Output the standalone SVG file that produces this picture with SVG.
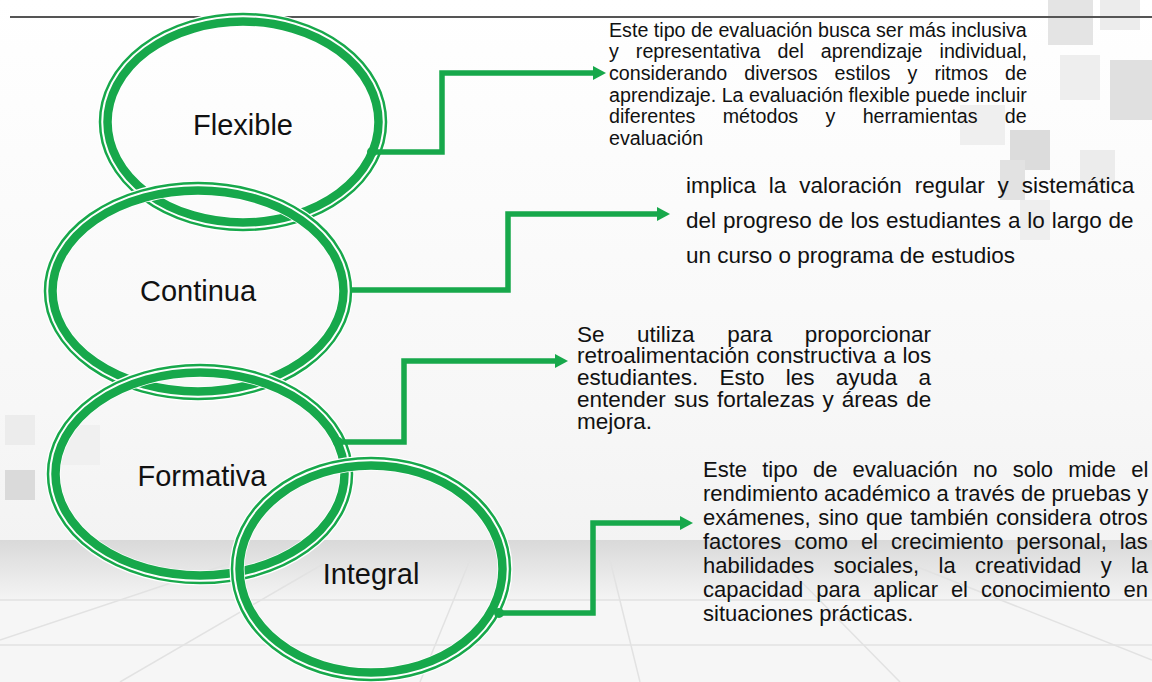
<svg xmlns="http://www.w3.org/2000/svg" width="1152" height="682" viewBox="0 0 1152 682">
<defs>
<style>
.halo{fill:none;stroke:#ffffff;stroke-width:15}
.thin{fill:none;stroke:#17a84b;stroke-width:2.5}
.thick{fill:none;stroke:#17a84b;stroke-width:8.5}
.lbl{font-family:"Liberation Sans",Arial,sans-serif;font-size:29px;fill:#111;text-anchor:middle}
.desc{font-family:"Liberation Sans",Arial,sans-serif;fill:#111}
.d1{font-size:21px}
.d2{font-size:22.5px}
.d3{font-size:22.5px}
.d4{font-size:22px}
.conn{fill:none;stroke:#17a84b;stroke-width:5.5;stroke-linejoin:miter}
.sq{fill:#e4e4e4}
.fl{stroke:#e2e2e2;stroke-width:1.5;fill:none}
</style>
<marker id="arr" viewBox="0 0 13 14" refX="1" refY="7" markerWidth="13" markerHeight="14" markerUnits="userSpaceOnUse" orient="auto">
<path d="M0,0 L13,7 L0,14 z" fill="#17a84b"/>
</marker>
<marker id="dot" viewBox="0 0 10 10" refX="5" refY="5" markerWidth="10" markerHeight="10" markerUnits="userSpaceOnUse">
<circle cx="5" cy="5" r="5" fill="#17a84b"/>
</marker>
<linearGradient id="band" x1="0" y1="0" x2="0" y2="1">
<stop offset="0" stop-color="#d9d9d9"/>
<stop offset="1" stop-color="#f4f4f4"/>
</linearGradient>
<linearGradient id="sky" x1="0" y1="0" x2="0" y2="1">
<stop offset="0" stop-color="#ffffff"/>
<stop offset="0.6" stop-color="#f7f7f7"/>
<stop offset="1" stop-color="#efefef"/>
</linearGradient>
</defs>

<g id="background">
<rect x="0" y="0" width="1152" height="682" fill="url(#sky)"/>
<rect x="0" y="540" width="1152" height="60" fill="url(#band)"/>
<rect x="0" y="600" width="1152" height="82" fill="#f6f6f6"/>
<line x1="0" y1="600" x2="1152" y2="600" class="fl"/>
<line x1="0" y1="645" x2="1152" y2="645" class="fl"/>
<path class="fl" d="M0,640 L240,560 M120,682 L330,560 M900,682 L780,560 M1152,660 L900,560 M420,682 L470,560 M640,682 L610,560"/>
<rect class="sq" x="1048" y="0" width="45" height="45"/>
<rect class="sq" x="1100" y="0" width="40" height="30" style="fill:#ececec"/>
<rect class="sq" x="1060" y="55" width="40" height="45" style="fill:#eeeeee"/>
<rect class="sq" x="1110" y="60" width="42" height="60" style="fill:#e0e0e0"/>
<rect class="sq" x="960" y="105" width="45" height="40" style="fill:#efefef"/>
<rect class="sq" x="1010" y="130" width="40" height="40" style="fill:#dcdcdc"/>
<rect class="sq" x="1080" y="150" width="35" height="35" style="fill:#ececec"/>
<rect class="sq" x="1000" y="160" width="25" height="40" style="fill:#e2e2e2"/>
<rect class="sq" x="1020" y="200" width="30" height="40" style="fill:#eeeeee"/>
<rect class="sq" x="5" y="415" width="30" height="30" style="fill:#ececec"/>
<rect class="sq" x="5" y="470" width="30" height="30" style="fill:#dadada"/>
<rect class="sq" x="60" y="425" width="40" height="40" style="fill:#f0f0f0"/>
<line x1="10" y1="17" x2="1152" y2="17" stroke="#555" stroke-width="2"/>
</g>

<g id="node-flexible">
<ellipse class="halo" cx="243" cy="122" rx="138" ry="103"/>
<ellipse class="thin" cx="243" cy="122" rx="143" ry="108"/>
<ellipse class="thick" cx="243" cy="122" rx="135.5" ry="100.5"/>
<text class="lbl" x="243" y="135">Flexible</text>
</g>

<g id="node-continua">
<ellipse class="halo" cx="198" cy="291" rx="148" ry="103"/>
<ellipse class="thin" cx="198" cy="291" rx="153" ry="108"/>
<ellipse class="thick" cx="198" cy="291" rx="145.5" ry="100.5"/>
<text class="lbl" x="198" y="301">Continua</text>
</g>

<g id="node-formativa">
<ellipse class="halo" cx="200" cy="474" rx="147" ry="104"/>
<ellipse class="thin" cx="200" cy="474" rx="152" ry="109"/>
<ellipse class="thick" cx="200" cy="474" rx="144.5" ry="101.5"/>
<text class="lbl" x="202" y="486">Formativa</text>
</g>

<g id="node-integral">
<ellipse class="halo" cx="371" cy="569" rx="134" ry="106"/>
<ellipse class="thin" cx="371" cy="569" rx="139" ry="111"/>
<ellipse class="thick" cx="371" cy="569" rx="131.5" ry="103.5"/>
<text class="lbl" x="371" y="584">Integral</text>
</g>

<g id="connectors">
<path class="conn" d="M372,152 H442 V73 H594" marker-start="url(#dot)" marker-end="url(#arr)"/>
<path class="conn" d="M350,290 H508 V214 H658" marker-end="url(#arr)"/>
<path class="conn" d="M338,442 H404 V361 H556" marker-start="url(#dot)" marker-end="url(#arr)"/>
<path class="conn" d="M499,613 H593 V523 H681" marker-start="url(#dot)" marker-end="url(#arr)"/>
</g>

<g id="desc-flexible" class="desc d1" transform="translate(609,0) scale(0.9375,1)">
<text x="0" y="36.6">Este tipo de evaluación busca ser más inclusiva</text>
<text x="0" y="58.3" style="word-spacing:12.3px">y representativa del aprendizaje individual,</text>
<text x="0" y="80" style="word-spacing:12.4px">considerando diversos estilos y ritmos de</text>
<text x="0" y="101.7">aprendizaje. La evaluación flexible puede incluir</text>
<text x="0" y="123.4" style="word-spacing:23.3px">diferentes métodos y herramientas de</text>
<text x="0" y="145.1">evaluación</text>
</g>

<g id="desc-continua" class="desc d2">
<text x="686" y="193" style="word-spacing:6.6px">implica la valoración regular y sistemática</text>
<text x="686" y="228" style="word-spacing:0.6px">del progreso de los estudiantes a lo largo de</text>
<text x="686" y="263">un curso o programa de estudios</text>
</g>

<g id="desc-formativa" class="desc d3">
<text x="577" y="341.5" style="word-spacing:26.3px">Se utiliza para proporcionar</text>
<text x="577" y="363.3" style="word-spacing:0.5px">retroalimentación constructiva a los</text>
<text x="577" y="385.1" style="word-spacing:15px">estudiantes. Esto les ayuda a</text>
<text x="577" y="406.9" style="word-spacing:1.8px">entender sus fortalezas y áreas de</text>
<text x="577" y="428.7">mejora.</text>
</g>

<g id="desc-integral" class="desc d4">
<text x="703" y="477" style="word-spacing:9.1px">Este tipo de evaluación no solo mide el</text>
<text x="703" y="501">rendimiento académico a través de pruebas y</text>
<text x="703" y="525" style="word-spacing:1.4px">exámenes, sino que también considera otros</text>
<text x="703" y="549" style="word-spacing:6.8px">factores como el crecimiento personal, las</text>
<text x="703" y="573" style="word-spacing:13.2px">habilidades sociales, la creatividad y la</text>
<text x="703" y="597" style="word-spacing:6.8px">capacidad para aplicar el conocimiento en</text>
<text x="703" y="621">situaciones prácticas.</text>
</g>
</svg>
